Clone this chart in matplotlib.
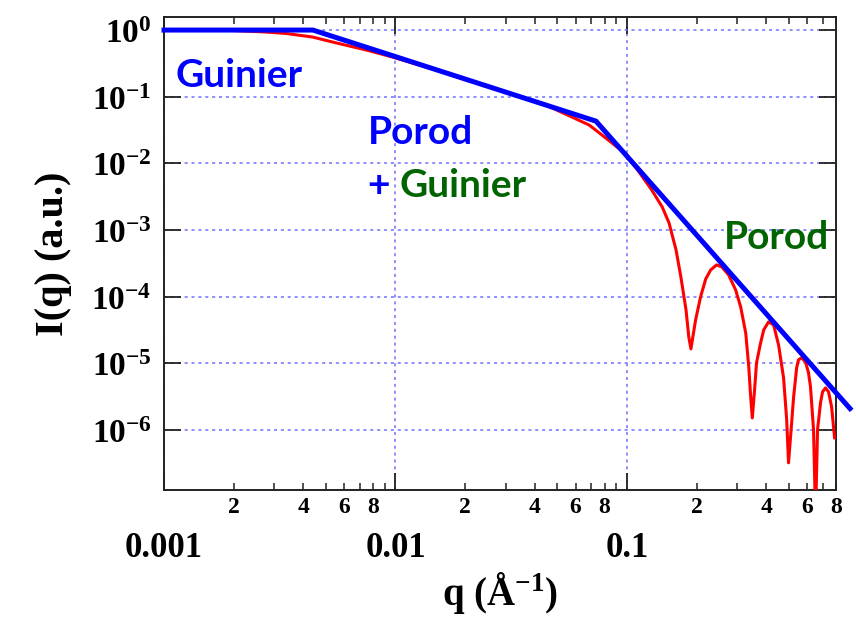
import math
import matplotlib
matplotlib.use("Agg")
import matplotlib.pyplot as plt
from matplotlib import ticker

plt.rcParams['mathtext.fontset'] = 'custom'
plt.rcParams['mathtext.rm'] = 'Liberation Serif:bold'
plt.rcParams['mathtext.bf'] = 'Liberation Serif:bold'
plt.rcParams['mathtext.it'] = 'Liberation Serif:bold'

# scattering curve I(q)
q_curve = [0.001, 0.00192, 0.00278, 0.00339, 0.00439, 0.00535, 0.0075, 0.0097,
           0.0171, 0.0281, 0.0461, 0.0686, 0.078, 0.1, 0.128, 0.142, 0.152,
           0.163, 0.171, 0.180, 0.185, 0.189, 0.198, 0.208, 0.219, 0.230,
           0.244, 0.257, 0.275, 0.295, 0.310, 0.326, 0.336, 0.342, 0.348,
           0.356, 0.363, 0.378, 0.390, 0.409, 0.430, 0.452, 0.475, 0.490,
           0.499, 0.512, 0.525, 0.541, 0.551, 0.568, 0.591, 0.609, 0.621, 0.640, 0.653,
           0.666, 0.686, 0.700, 0.721, 0.743, 0.766, 0.789]
I_curve = [1.0, 0.99, 0.933, 0.886, 0.785, 0.661, 0.501, 0.394,
           0.219, 0.126, 0.0713, 0.0377, 0.0267, 0.0134, 3.99e-3, 2.22e-3, 1.28e-3,
           5.03e-4, 1.98e-4, 6.34e-5, 2.50e-5, 1.65e-5, 4.49e-5, 9.93e-5, 1.85e-4, 2.52e-4,
           3.00e-4, 2.80e-4, 2.12e-4, 1.26e-4, 7.03e-5, 2.86e-5, 8.86e-6, 3.37e-6, 1.52e-6,
           4.01e-6, 1.02e-5, 2.03e-5, 3.18e-5, 4.19e-5, 3.78e-5, 1.89e-5, 6.06e-6, 1.42e-6,
           3.22e-7, 1.01e-6, 3.15e-6, 8.57e-6, 1.13e-5, 1.21e-5, 1.05e-5, 7.2e-6, 4.44e-6, 1.01e-6, 5.0e-8,
           1.01e-6, 2.56e-6, 3.74e-6, 4.29e-6, 3.74e-6, 2.23e-6, 7.64e-7]

# asymptotes: Guinier plateau, q^-1 and q^-4 regimes
q_asym = [0.001, 0.0044, 0.0735, 0.92]
I_asym = [1.0, 1.0, 0.043, 2.1e-6]

fig = plt.figure(figsize=(8.56, 6.18), dpi=100)
ax = fig.add_axes([0.1916, 0.2071, 0.785, 0.7654])

ax.plot(q_curve, I_curve, color='red', lw=2.2, zorder=3)
ax.plot(q_asym, I_asym, color='blue', lw=3.6, clip_on=False, zorder=4,
        solid_joinstyle='miter')

ax.set_xscale('log')
ax.set_yscale('log')
ax.set_xlim(0.001, 0.8)
ax.set_ylim(1.26e-7, 1.57)

ax.grid(True, which='major', color='#7070ff', lw=1.1, linestyle=(0, (2, 2.5)))

ax.xaxis.set_major_locator(ticker.FixedLocator([0.001, 0.01, 0.1]))
ax.xaxis.set_major_formatter(ticker.FixedFormatter(['0.001', '0.01', '0.1']))
ax.xaxis.set_minor_locator(ticker.LogLocator(base=10, subs=range(2, 10), numticks=20))


def minor_fmt(v, pos):
    m = round(v / 10 ** math.floor(math.log10(v) + 1e-9))
    return str(m) if m in (2, 4, 6, 8) else ''


ax.xaxis.set_minor_formatter(ticker.FuncFormatter(minor_fmt))

ax.yaxis.set_major_locator(ticker.FixedLocator([10.0 ** k for k in range(-6, 1)]))
ax.yaxis.set_major_formatter(ticker.FuncFormatter(
    lambda v, pos: r'$\mathbf{10^{%d}}$' % round(math.log10(v))))
ax.yaxis.set_minor_locator(ticker.NullLocator())

ax.tick_params(which='both', direction='in', top=True, right=True, color='#222222')
ax.tick_params(which='major', length=12, width=1.3)
ax.tick_params(which='minor', length=5, width=1.1)
ax.tick_params(axis='x', which='major', pad=30, labelsize=25)
ax.tick_params(axis='x', which='minor', pad=5, labelsize=17)
ax.tick_params(axis='y', which='major', pad=9, labelsize=24)
for lab in ax.get_xticklabels(which='both'):
    lab.set_fontfamily('Liberation Serif')
    lab.set_fontweight('bold')

for s in ax.spines.values():
    s.set_linewidth(1.4)
    s.set_color('#222222')

ax.set_ylabel('I(q) (a.u.)', fontfamily='Liberation Serif', fontweight='bold',
              fontsize=29, labelpad=14)
ax.set_xlabel(r'q (Å$^{-1}$)', fontfamily='Liberation Serif', fontweight='bold',
              fontsize=28, labelpad=4)

sans = ['Lato', 'DejaVu Sans']
ax.text(0.00112, 0.21, 'Guinier', color='blue', fontsize=28, fontweight='bold',
        family=sans, va='center', ha='left')
ax.text(0.00757, 0.0286, 'Porod', color='blue', fontsize=28, fontweight='bold',
        family=sans, va='center', ha='left')
ax.text(0.00757, 0.0046, '+', color='blue', fontsize=28, fontweight='bold',
        family=sans, va='center', ha='left')
ax.text(0.0104, 0.0046, 'Guinier', color='#006400', fontsize=28, fontweight='bold',
        family=sans, va='center', ha='left')
ax.text(0.262, 7.6e-4, 'Porod', color='#006400', fontsize=28, fontweight='bold',
        family=sans, va='center', ha='left')

fig.savefig('out.png', dpi=100)
